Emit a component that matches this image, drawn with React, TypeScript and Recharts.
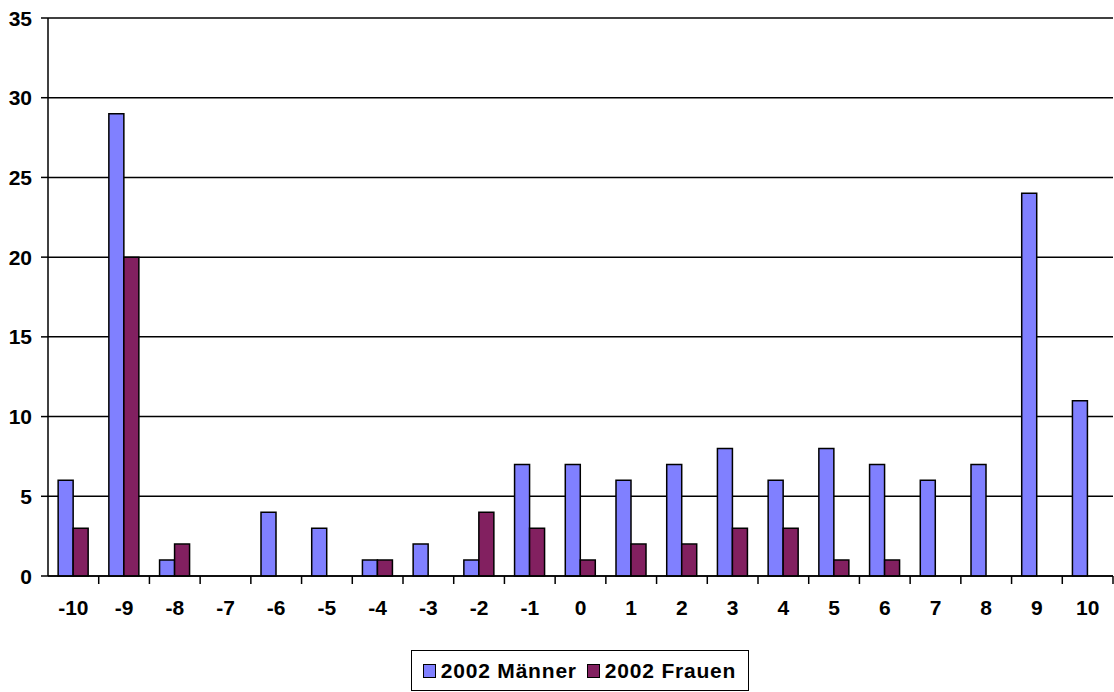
import React from 'react';
import { BarChart, Bar, XAxis, YAxis, CartesianGrid, Legend } from 'recharts';

const categories = ['-10', '-9', '-8', '-7', '-6', '-5', '-4', '-3', '-2', '-1', '0', '1', '2', '3', '4', '5', '6', '7', '8', '9', '10'];
const maenner = [6, 29, 1, 0, 4, 3, 1, 2, 1, 7, 7, 6, 7, 8, 6, 8, 7, 6, 7, 24, 11];
const frauen = [3, 20, 2, 0, 0, 0, 1, 0, 4, 3, 1, 2, 2, 3, 3, 1, 1, 0, 0, 0, 0];
const yTicks = [0, 5, 10, 15, 20, 25, 30, 35];

const seriesNames = ['2002 Männer', '2002 Frauen'];
const colors = ['#8080FF', '#822060'];

const data = categories.map((c, i) => ({ cat: c, m: maenner[i], f: frauen[i] }));

const FONT = 'Liberation Sans, Arial, sans-serif';

const XTick = (props: any) => {
  const { x, y, payload } = props;
  const half = payload && payload.offset ? payload.offset : 25.3;
  return (
    <g>
      <line x1={x + half} y1={y - 8} x2={x + half} y2={y} stroke="#000" strokeWidth={1.5} />
      <text x={x} y={y + 31} textAnchor="middle" fontFamily={FONT} fontWeight="bold" fontSize={21} fill="#000">
        {payload.value}
      </text>
    </g>
  );
};

const YTick = (props: any) => {
  const { x, y, payload } = props;
  return (
    <text x={x - 1} y={y + 7.5} textAnchor="end" fontFamily={FONT} fontWeight="bold" fontSize={21} fill="#000">
      {payload.value}
    </text>
  );
};

const LegendContent = () => (
  <div style={{ display: 'flex', justifyContent: 'center' }}>
    <div
      style={{
        border: '1.5px solid #000',
        height: 41,
        width: 338,
        boxSizing: 'border-box',
        display: 'flex',
        alignItems: 'center',
        justifyContent: 'center',
        fontFamily: FONT,
        fontWeight: 'bold',
        fontSize: 21,
        letterSpacing: 0.8,
        marginLeft: 46,
      }}
    >
      {seriesNames.map((n, i) => (
        <span key={n} style={{ display: 'flex', alignItems: 'center', marginRight: i === 0 ? 10 : 0 }}>
          <span style={{ display: 'inline-block', width: 11, height: 12, background: colors[i], border: '1.5px solid #000', marginRight: 5 }} />
          {n}
        </span>
      ))}
    </div>
  </div>
);

export default function App() {
  return (
    <div style={{ position: 'absolute', left: 0, top: 0, width: 1114, height: 692, background: '#fff' }}>
      <BarChart
        width={1114}
        height={692}
        data={data}
        margin={{ top: 18, right: 1, left: 0, bottom: 0 }}
        barCategoryGap="20%"
        barGap={0}
      >
        <CartesianGrid vertical={false} stroke="#000" strokeWidth={1.5} />
        <XAxis
          dataKey="cat"
          tickLine={false}
          tick={<XTick />}
          height={75}
          axisLine={{ stroke: '#000', strokeWidth: 1.5 }}
          interval={0}
        />
        <YAxis
          width={48}
          domain={[0, 35]}
          ticks={yTicks}
          tickSize={7}
          tickMargin={8}
          axisLine={{ stroke: '#000', strokeWidth: 1.5 }}
          tickLine={{ stroke: '#000', strokeWidth: 1.5 }}
          tick={<YTick />}
        />
        <Legend verticalAlign="bottom" content={<LegendContent />} wrapperStyle={{ bottom: 1 }} />
        <Bar dataKey="m" name={seriesNames[0]} fill={colors[0]} stroke="#000" strokeWidth={1.5} isAnimationActive={false} />
        <Bar dataKey="f" name={seriesNames[1]} fill={colors[1]} stroke="#000" strokeWidth={1.5} isAnimationActive={false} />
      </BarChart>
    </div>
  );
}
